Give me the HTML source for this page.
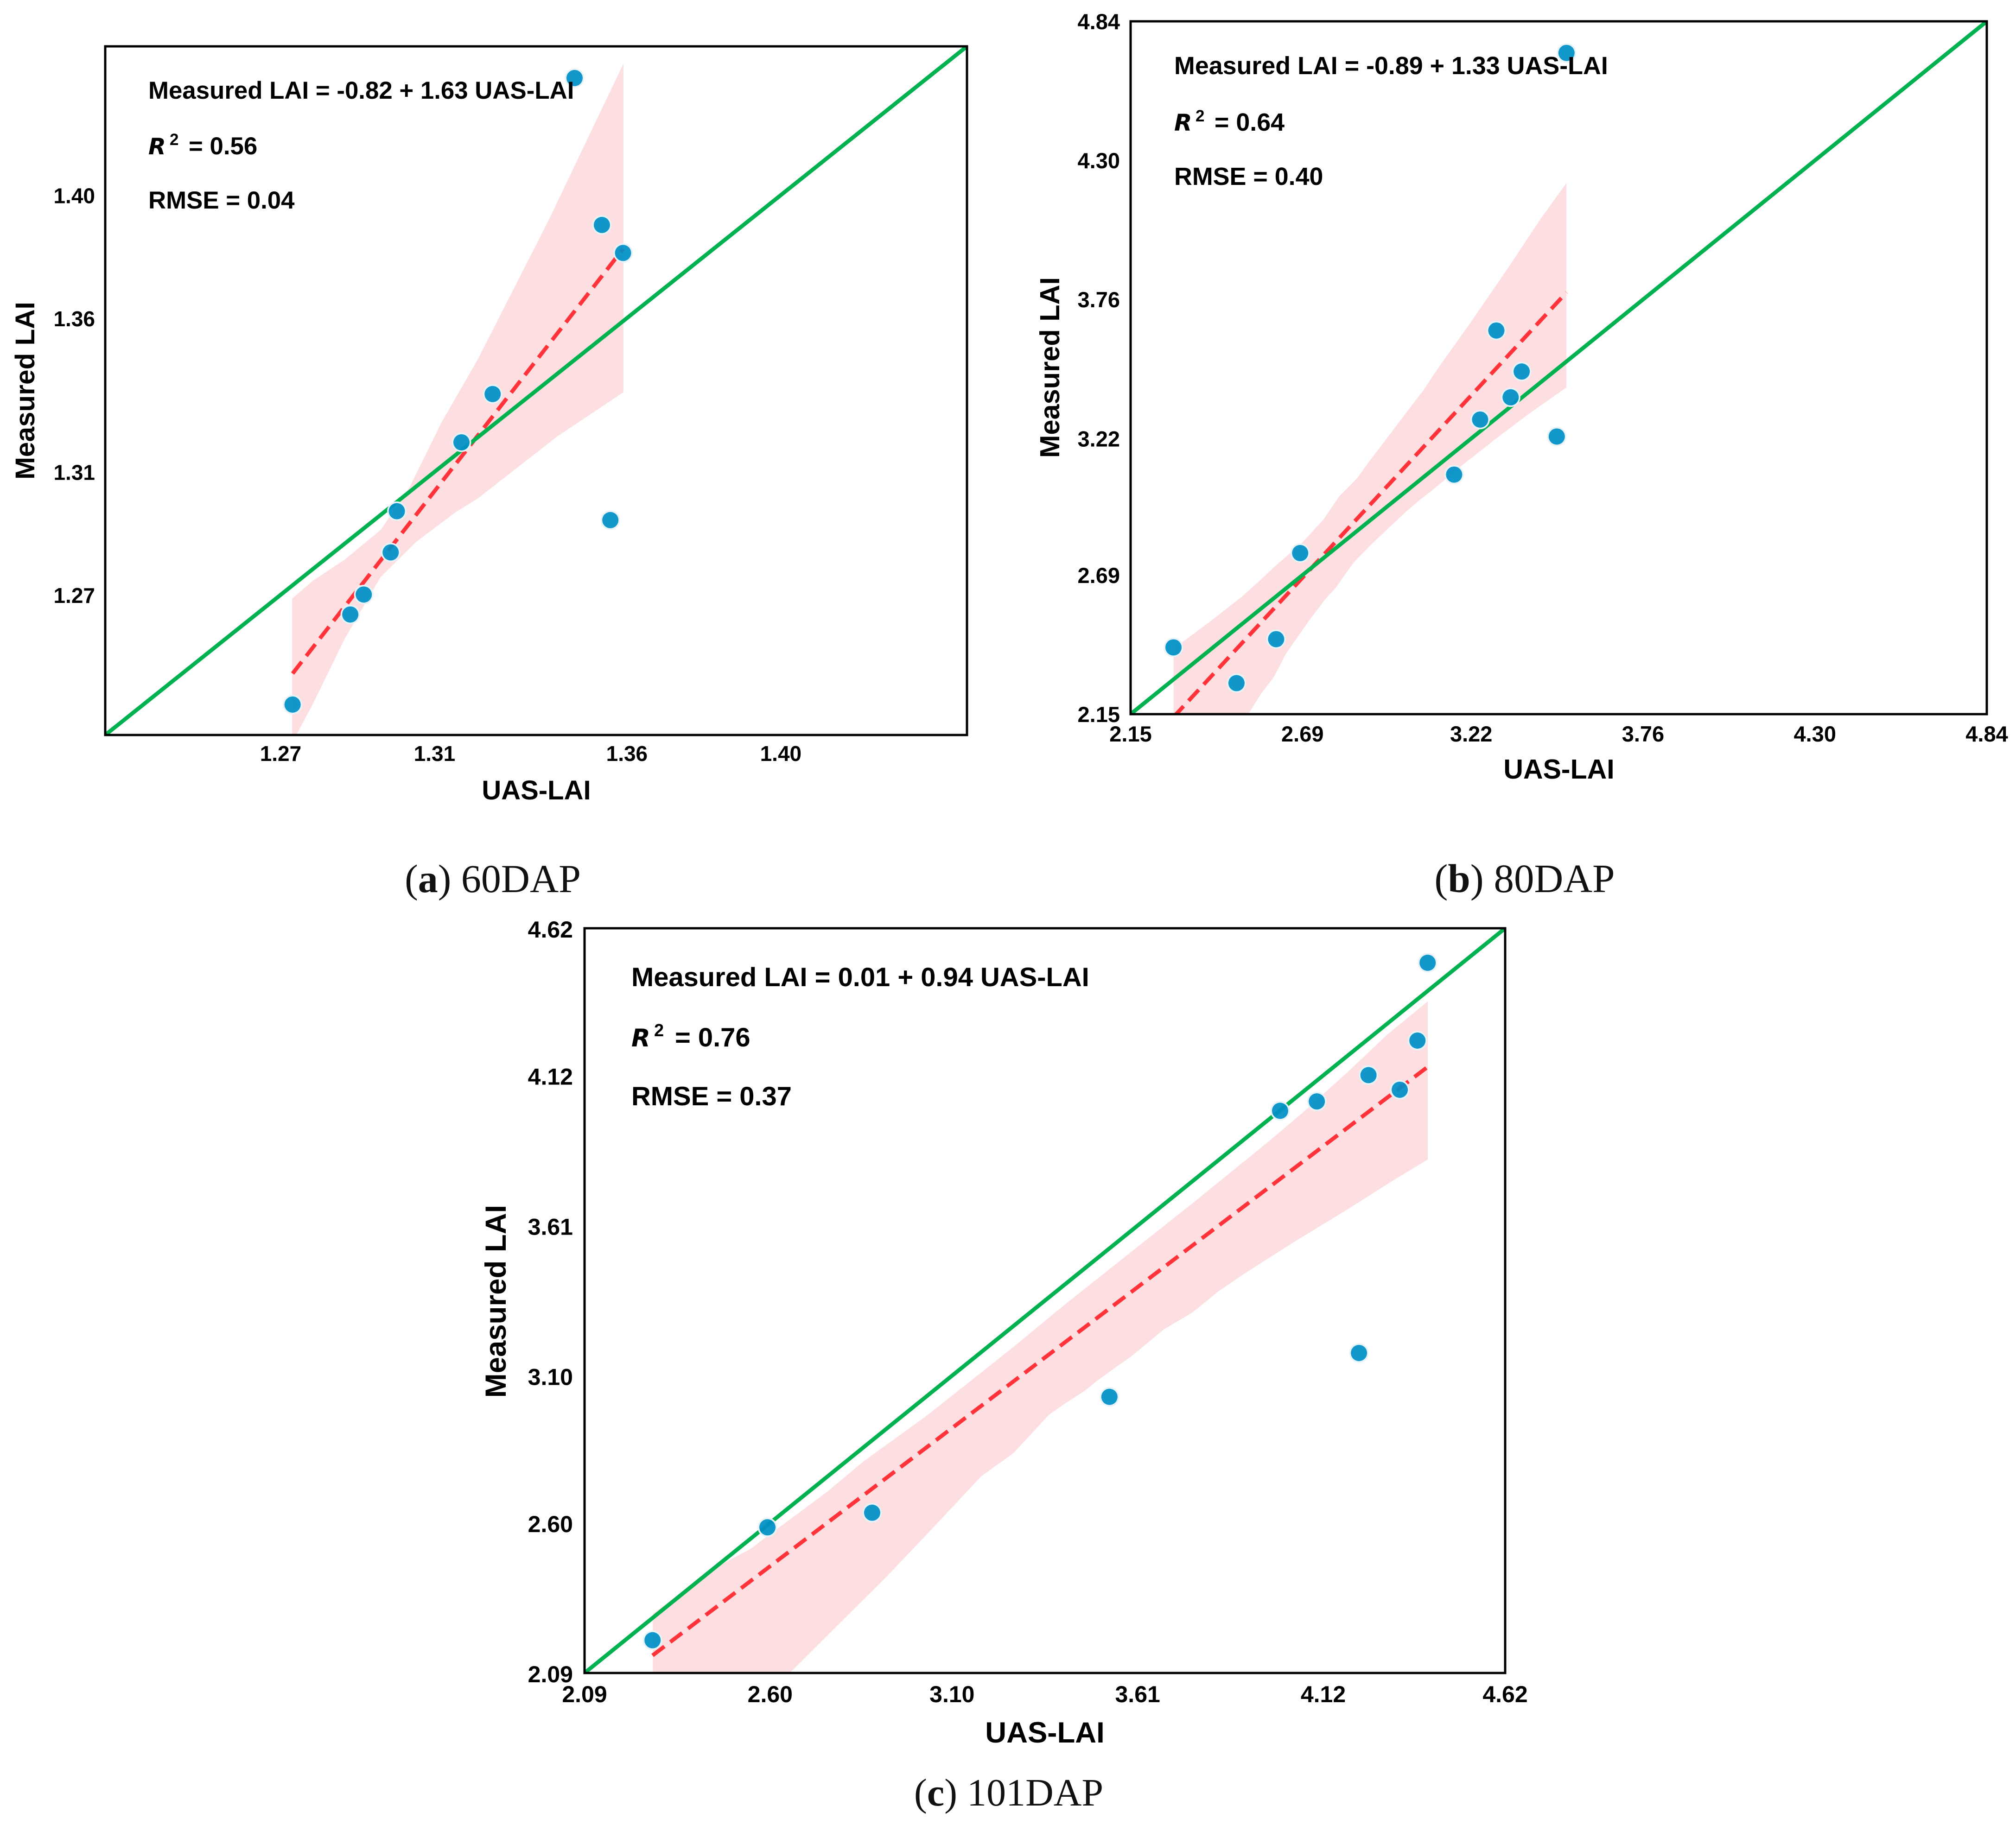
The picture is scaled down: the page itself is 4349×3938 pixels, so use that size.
<!DOCTYPE html>
<html lang="en">
<head>
<meta charset="utf-8">
<title>Measured LAI vs UAS-LAI</title>
<style>
html,body{margin:0;padding:0;background:#fff;}
svg{display:block;}
text{font-family:"Liberation Sans",Arial,sans-serif;font-weight:bold;fill:#000;}
text.caption{font-family:"Liberation Serif","DejaVu Serif",serif;font-weight:normal;fill:#111;}
</style>
</head>
<body>
<svg id="figure" xmlns="http://www.w3.org/2000/svg" width="4349" height="3938" viewBox="0 0 4349 3938">
  <rect x="0" y="0" width="4349" height="3938" fill="#fff"/>
  <defs>
    <clipPath id="clip-a"><rect x="227" y="100" width="1859" height="1486"/></clipPath>
    <clipPath id="clip-b"><rect x="2439" y="46" width="1847" height="1495"/></clipPath>
    <clipPath id="clip-c"><rect x="1261" y="2003" width="1986" height="1607"/></clipPath>
  </defs>

  <g id="panel-a"></g>
  <g id="panel-b"></g>
  <g id="panel-c"></g>

  <g font-size="52.8">
    <text x="320" y="213">Measured LAI = -0.82 + 1.63 UAS-LAI</text>
    <text x="320" y="333"><tspan font-size="49" font-family="DejaVu Sans" font-style="italic">R</tspan><tspan x="366" dy="-20" font-size="35">2</tspan><tspan x="407" dy="20">= 0.56</tspan></text>
    <text x="320" y="450">RMSE = 0.04</text>
  </g>
  <g font-size="53.8">
    <text x="2533" y="160">Measured LAI = -0.89 + 1.33 UAS-LAI</text>
    <text x="2533" y="282"><tspan font-size="50" font-family="DejaVu Sans" font-style="italic">R</tspan><tspan x="2579" dy="-20" font-size="35">2</tspan><tspan x="2620" dy="20">= 0.64</tspan></text>
    <text x="2533" y="399">RMSE = 0.40</text>
  </g>
  <g font-size="57.9">
    <text x="1362" y="2128">Measured LAI = 0.01 + 0.94 UAS-LAI</text>
    <text x="1362" y="2258"><tspan font-size="53" font-family="DejaVu Sans" font-style="italic">R</tspan><tspan x="1411" dy="-22" font-size="38">2</tspan><tspan x="1456" dy="22">= 0.76</tspan></text>
    <text x="1362" y="2385">RMSE = 0.37</text>
  </g>

  <text x="1157" y="1725" font-size="58" text-anchor="middle">UAS-LAI</text>
  <text transform="translate(74 843) rotate(-90)" font-size="58.5" text-anchor="middle">Measured LAI</text>
  <text x="3363" y="1680" font-size="59" text-anchor="middle">UAS-LAI</text>
  <text transform="translate(2285 793) rotate(-90)" font-size="59.5" text-anchor="middle">Measured LAI</text>
  <text x="2254" y="3760" font-size="63.5" text-anchor="middle">UAS-LAI</text>
  <text transform="translate(1091 2808) rotate(-90)" font-size="63.5" text-anchor="middle">Measured LAI</text>

  <text class="caption" x="1063" y="1925" font-size="86" text-anchor="middle">(<tspan font-weight="bold">a</tspan>) 60DAP</text>
  <text class="caption" x="3289" y="1925" font-size="87" text-anchor="middle">(<tspan font-weight="bold">b</tspan>) 80DAP</text>
  <text class="caption" x="2176" y="3896" font-size="84" text-anchor="middle">(<tspan font-weight="bold">c</tspan>) 101DAP</text>
</svg>

<script>
// ---------- Panel (a) 60 DAP ----------
const aDomain = [1.225, 1.449];
const aXTicks = ['1.27', '1.31', '1.36', '1.40'];
const aYTicks = ['1.27', '1.31', '1.36', '1.40'];
const aPointX = [1.2737, 1.2887, 1.2922, 1.2992, 1.3008, 1.3176, 1.3257, 1.3470, 1.3541, 1.3563, 1.3596];
const aPointY = [1.2349, 1.2642, 1.2707, 1.2844, 1.2978, 1.3202, 1.3359, 1.4387, 1.3909, 1.2949, 1.3818];
const aFitX = [1.2737, 1.3596];
const aFitY = [1.2450, 1.3831];
const aBandUpperX = [1.2736, 1.2789, 1.2873, 1.2966, 1.3042, 1.3125, 1.3218, 1.3402, 1.3597];
const aBandUpperY = [1.2694, 1.2751, 1.2821, 1.2917, 1.3058, 1.3269, 1.3471, 1.3923, 1.4434];
const aBandLowerX = [1.2736, 1.2789, 1.2873, 1.2966, 1.3059, 1.3160, 1.3218, 1.3425, 1.3597];
const aBandLowerY = [1.2225, 1.2349, 1.2564, 1.2764, 1.2879, 1.2974, 1.3019, 1.3221, 1.3365];

// ---------- Panel (b) 80 DAP ----------
const bDomain = [2.15, 4.84];
const bXTicks = ['2.15', '2.69', '3.22', '3.76', '4.30', '4.84'];
const bYTicks = ['2.15', '2.69', '3.22', '3.76', '4.30', '4.84'];
const bPointX = [2.2847, 2.4827, 2.6072, 2.6827, 3.1664, 3.2481, 3.2991, 3.3440, 3.3787, 3.4889, 3.5195];
const bPointY = [2.4092, 2.2705, 2.4411, 2.7754, 3.0801, 3.2938, 3.6395, 3.3802, 3.4803, 3.2279, 4.7173];
const bFitX = [2.2847, 3.5195];
const bFitY = [2.1386, 3.7873];
const bBandUpperX = [2.2847, 2.3124, 2.4100, 2.4995, 2.5491, 2.6051, 2.6889, 2.7559, 2.8054, 2.8615, 2.8950, 3.0719, 3.1113, 3.2117, 3.3341, 3.4404, 3.5191];
const bBandUpperY = [2.4073, 2.4294, 2.5194, 2.6061, 2.6610, 2.7258, 2.8157, 2.9057, 2.9956, 3.0658, 3.1234, 3.4113, 3.4850, 3.6595, 3.8790, 4.0769, 4.2119];
const bBandLowerX = [2.2847, 2.5214, 2.5607, 2.6000, 2.6379, 2.7107, 2.7617, 2.7946, 2.8505, 2.9059, 3.0108, 3.0559, 3.0996, 3.1841, 3.3064, 3.3953, 3.5191];
const bBandLowerY = [2.0500, 2.1536, 2.2310, 2.2939, 2.3839, 2.5134, 2.5962, 2.6412, 2.7383, 2.8085, 2.9309, 2.9794, 3.0208, 3.1090, 3.2277, 3.3105, 3.4184];

// ---------- Panel (c) 101 DAP ----------
const cDomain = [2.09, 4.62];
const cXTicks = ['2.09', '2.60', '3.10', '3.61', '4.12', '4.62'];
const cYTicks = ['2.09', '2.60', '3.10', '3.61', '4.12', '4.62'];
const cPointX = [2.2769, 2.5926, 2.8804, 3.5325, 4.0015, 4.1024, 4.2182, 4.2444, 4.3303, 4.3789, 4.4069];
const cPointY = [2.2013, 2.5849, 2.6345, 3.0281, 3.9999, 4.0317, 3.1771, 4.1211, 4.0714, 4.2384, 4.5027];
const cFitX = [2.2769, 4.4069];
const cFitY = [2.1496, 4.1489];
const cBandUpperX = [2.2778, 2.4480, 2.5460, 2.5945, 2.7575, 2.8543, 3.0333, 3.2607, 3.4136, 3.5570, 3.7639, 3.9715, 4.0747, 4.1919, 4.2957, 4.4072];
const cBandUpperY = [2.2914, 2.4470, 2.5114, 2.5570, 2.7063, 2.8068, 2.9671, 3.1899, 3.3453, 3.4861, 3.6888, 3.8972, 4.0056, 4.1368, 4.2586, 4.3717];
const cBandLowerX = [2.2778, 2.6569, 2.8136, 2.9193, 3.0578, 3.1792, 3.2123, 3.2690, 3.3664, 3.4136, 3.4671, 3.5015, 3.5919, 3.6327, 3.6811, 3.7607, 3.8327, 3.9022, 4.0403, 4.1779, 4.3168, 4.4072];
const cBandLowerY = [1.6488, 2.0934, 2.2867, 2.4162, 2.5965, 2.7570, 2.7870, 2.8372, 2.9674, 3.0079, 3.0508, 3.0854, 3.1655, 3.2064, 3.2566, 3.3148, 3.3871, 3.4457, 3.5546, 3.6583, 3.7668, 3.8343];

const SVG_NS = 'http://www.w3.org/2000/svg';

function drawPanel(groupId, suffix, box, domain, xTicks, yTicks, pointX, pointY, fitX, fitY, upX, upY, loX, loY, style) {
  const group = document.getElementById(groupId);
  const xScale = v => box.left + (v - domain[0]) / (domain[1] - domain[0]) * (box.right - box.left);
  const yScale = v => box.bottom - (v - domain[0]) / (domain[1] - domain[0]) * (box.bottom - box.top);

  const plot = document.createElementNS(SVG_NS, 'g');
  plot.setAttribute('clip-path', 'url(#clip-' + suffix + ')');
  
  
  group.appendChild(plot);

  // confidence band
  const bandPts = [];
  upX.forEach((v, i) => bandPts.push(xScale(v).toFixed(1) + ',' + yScale(upY[i]).toFixed(1)));
  for (let i = loX.length - 1; i >= 0; i--) {
    bandPts.push(xScale(loX[i]).toFixed(1) + ',' + yScale(loY[i]).toFixed(1));
  }
  const band = document.createElementNS(SVG_NS, 'polygon');
  band.setAttribute('points', bandPts.join(' '));
  band.setAttribute('fill', '#fddfe1');
  
  
  plot.appendChild(band);

  // regression line
  const fit = document.createElementNS(SVG_NS, 'line');
  fit.setAttribute('x1', xScale(fitX[0]));
  fit.setAttribute('y1', yScale(fitY[0]));
  fit.setAttribute('x2', xScale(fitX[1]));
  fit.setAttribute('y2', yScale(fitY[1]));
  fit.setAttribute('stroke', '#ff3339');
  fit.setAttribute('stroke-width', '8.5');
  fit.setAttribute('stroke-dasharray', '32 16');
  
  
  plot.appendChild(fit);

  // one-to-one line
  const diag = document.createElementNS(SVG_NS, 'line');
  diag.setAttribute('x1', xScale(domain[0]));
  diag.setAttribute('y1', yScale(domain[0]));
  diag.setAttribute('x2', xScale(domain[1]));
  diag.setAttribute('y2', yScale(domain[1]));
  diag.setAttribute('stroke', '#00b14f');
  diag.setAttribute('stroke-width', '8.5');
  
  
  plot.appendChild(diag);

  // points
  pointX.forEach((v, i) => {
    const halo = document.createElementNS(SVG_NS, 'circle');
    halo.setAttribute('cx', xScale(v));
    halo.setAttribute('cy', yScale(pointY[i]));
    halo.setAttribute('r', '19');
    halo.setAttribute('fill', 'none');
    halo.setAttribute('stroke', '#e6f3f8');
    halo.setAttribute('stroke-width', '4');
    
    
    plot.appendChild(halo);
    const dot = document.createElementNS(SVG_NS, 'circle');
    dot.setAttribute('cx', xScale(v));
    dot.setAttribute('cy', yScale(pointY[i]));
    dot.setAttribute('r', '17.5');
    dot.setAttribute('fill', '#008fc6');
    dot.setAttribute('fill-opacity', '0.93');
    
    
    plot.appendChild(dot);
  });

  // frame
  const frame = document.createElementNS(SVG_NS, 'rect');
  frame.setAttribute('x', box.left);
  frame.setAttribute('y', box.top);
  frame.setAttribute('width', box.right - box.left);
  frame.setAttribute('height', box.bottom - box.top);
  frame.setAttribute('fill', 'none');
  frame.setAttribute('stroke', '#000');
  frame.setAttribute('stroke-width', '5');
  
  
  group.appendChild(frame);

  // tick labels
  xTicks.forEach(t => {
    const label = document.createElementNS(SVG_NS, 'text');
    label.setAttribute('x', xScale(parseFloat(t)) + style.xLabelDx);
    label.setAttribute('y', style.xLabelBaseline);
    label.setAttribute('font-size', style.tickSize);
    label.setAttribute('text-anchor', 'middle');
    label.textContent = t;
    
    
    group.appendChild(label);
  });
  yTicks.forEach(t => {
    const label = document.createElementNS(SVG_NS, 'text');
    label.setAttribute('x', style.yLabelRight);
    label.setAttribute('y', yScale(parseFloat(t)) + style.tickSize * 0.36 + style.yLabelDy);
    label.setAttribute('font-size', style.tickSize);
    label.setAttribute('text-anchor', 'end');
    label.textContent = t;
    
    
    group.appendChild(label);
  });
}

drawPanel('panel-a', 'a', {left: 227, right: 2086, top: 100, bottom: 1586}, aDomain, aXTicks, aYTicks,
  aPointX, aPointY, aFitX, aFitY, aBandUpperX, aBandUpperY, aBandLowerX, aBandLowerY,
  {tickSize: 46, xLabelDx: 5, xLabelBaseline: 1642, yLabelRight: 205, yLabelDy: -3});
drawPanel('panel-b', 'b', {left: 2439, right: 4286, top: 46, bottom: 1541}, bDomain, bXTicks, bYTicks,
  bPointX, bPointY, bFitX, bFitY, bBandUpperX, bBandUpperY, bBandLowerX, bBandLowerY,
  {tickSize: 47, xLabelDx: 0, xLabelBaseline: 1600, yLabelRight: 2416, yLabelDy: 0});
drawPanel('panel-c', 'c', {left: 1261, right: 3247, top: 2003, bottom: 3610}, cDomain, cXTicks, cYTicks,
  cPointX, cPointY, cFitX, cFitY, cBandUpperX, cBandUpperY, cBandLowerX, cBandLowerY,
  {tickSize: 50, xLabelDx: 0, xLabelBaseline: 3673, yLabelRight: 1236, yLabelDy: 2});
</script>
</body>
</html>
